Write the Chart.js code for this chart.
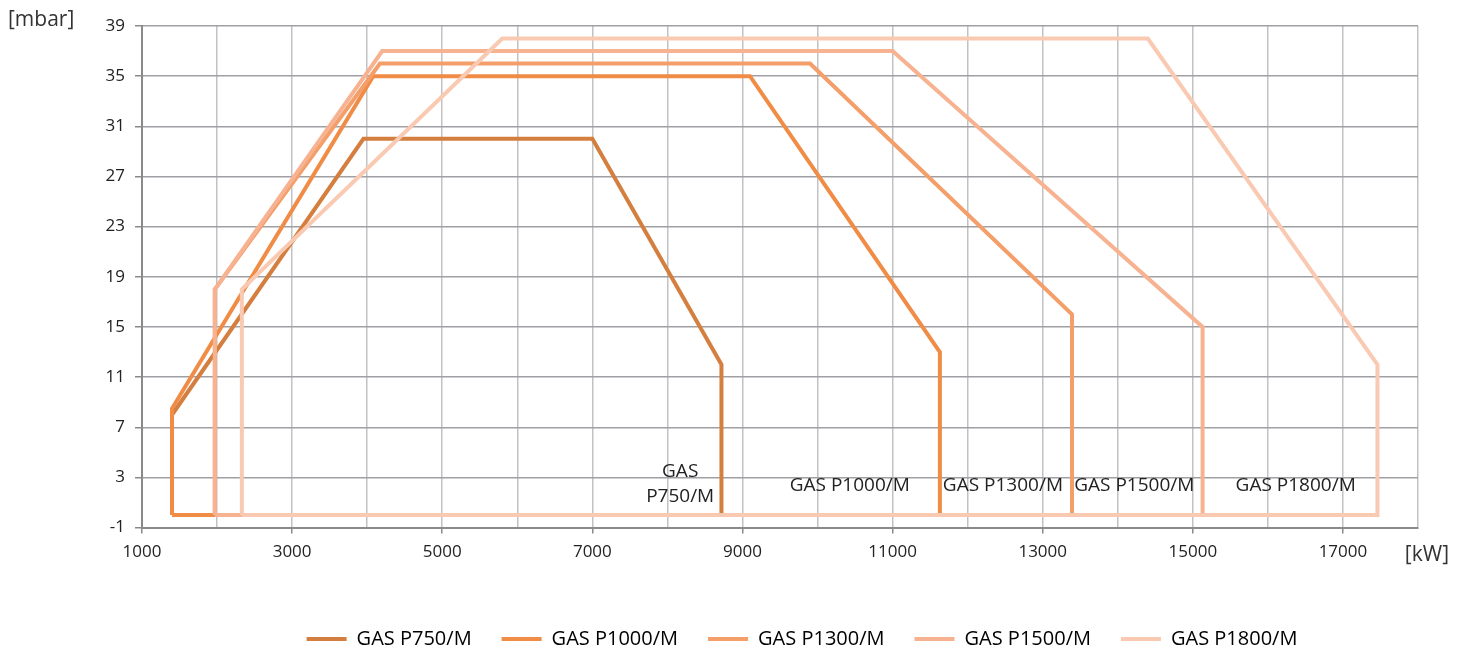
<!DOCTYPE html>
<html>
<head>
<meta charset="utf-8">
<script src="https://cdn.jsdelivr.net/npm/chart.js@4/dist/chart.umd.min.js"></script>
<style>
  html, body { margin: 0; padding: 0; background: #fff; }
  #wrap { width: 1464px; height: 651px; }
</style>
</head>
<body>
<div id="wrap"><canvas id="chart"></canvas></div>
<script>
// burner working fields (kW / mbar)
const names = ['GAS P750/M', 'GAS P1000/M', 'GAS P1300/M', 'GAS P1500/M', 'GAS P1800/M'];
const colors = ['#d47f3f', '#f08c45', '#f49e6a', '#f7b391', '#f9c9b2'];

const p750X  = [1400, 1400, 3950, 7000, 8720, 8720, 1400];
const p750Y  = [0, 8, 30, 30, 12, 0, 0];
const p1000X = [1400, 1400, 4080, 9100, 11630, 11630, 1400];
const p1000Y = [0, 8.5, 35, 35, 13, 0, 0];
const p1300X = [1970, 1970, 4170, 9900, 13390, 13390, 1970];
const p1300Y = [0, 18, 36, 36, 16, 0, 0];
const p1500X = [1970, 1970, 4200, 11000, 15130, 15130, 1970];
const p1500Y = [0, 18, 37, 37, 15, 0, 0];
const p1800X = [2330, 2330, 5800, 14400, 17460, 17460, 2330];
const p1800Y = [0, 18, 38, 38, 12, 0, 0];

// text labels written inside the plot (x, y in data units)
const noteText = [['GAS', 'P750/M'], ['GAS P1000/M'], ['GAS P1300/M'], ['GAS P1500/M'], ['GAS P1800/M']];
const noteX = [8170, 10430, 12470, 14220, 16370];
const noteY = [2.45, 2.35, 2.35, 2.35, 2.35];

const xs = [p750X, p1000X, p1300X, p1500X, p1800X];
const ys = [p750Y, p1000Y, p1300Y, p1500Y, p1800Y];

const FONT = "'Open Sans', 'Noto Sans', sans-serif";

const datasets = names.map((n, i) => ({
  label: n,
  data: xs[i].map((x, k) => ({ x: x, y: ys[i][k] })),
  borderColor: colors[i],
  backgroundColor: colors[i],
  borderWidth: 4,
  pointRadius: 0,
  fill: false,
  tension: 0,
  showLine: true,
  order: names.length - i   // last series painted on top
}));

const extras = {
  id: 'extras',
  afterLayout(chart) {
    // legend sits right of centre and a little lower in the original
    chart.legend.left += 93;
    chart.legend.right += 93;
    chart.legend.top += 8;
    chart.legend.bottom += 8;
  },
  afterDatasetsDraw(chart) {
    const { ctx, scales: { x, y } } = chart;
    ctx.save();
    ctx.fillStyle = '#222';
    ctx.font = '19px ' + FONT;
    ctx.textAlign = 'center';
    ctx.textBaseline = 'middle';
    noteText.forEach((lines, i) => {
      const px = x.getPixelForValue(noteX[i]);
      const py = y.getPixelForValue(noteY[i]);
      const start = py - (lines.length - 1) * 12.5;
      lines.forEach((t, k) => ctx.fillText(t, px, start + k * 25));
    });
    // unit labels
    const a = chart.chartArea;
    ctx.font = '21px ' + FONT;
    ctx.fillStyle = '#333';
    ctx.textAlign = 'left';
    ctx.fillText('[mbar]', 8, a.top - 6);
    ctx.textAlign = 'right';
    ctx.fillText('[kW]', 1449, a.bottom + 27);
    ctx.restore();
  }
};

new Chart(document.getElementById('chart'), {
  type: 'scatter',
  data: { datasets: datasets },
  options: {
    responsive: true,
    maintainAspectRatio: false,
    animation: false,
    layout: { padding: { left: 0, right: 46, top: 26, bottom: 0 } },
    plugins: {
      legend: {
        position: 'bottom',
        labels: {
          font: { family: FONT, size: 20 },
          color: '#222',
          boxWidth: 40,
          boxHeight: 4,
          padding: 30,
          generateLabels(chart) {
            return chart.data.datasets.map((d, i) => ({
              text: d.label,
              fillStyle: d.borderColor,
              strokeStyle: d.borderColor,
              lineWidth: 0,
              datasetIndex: i
            }));
          }
        }
      },
      tooltip: { enabled: false }
    },
    scales: {
      x: {
        type: 'linear',
        min: 1000,
        max: 18000,
        afterFit: s => { s.height += 21; },
        ticks: {
          stepSize: 1000,
          autoSkip: false,
          maxRotation: 0,
          padding: 8,
          color: '#222',
          font: { family: FONT, size: 17 },
          callback: v => (v % 2000 === 1000 && v < 18000) ? String(v) : ''
        },
        grid: {
          color: '#c2c2c4',
          lineWidth: 1.5,
          tickLength: 6,
          tickColor: ctx => (ctx.tick && ctx.tick.value % 2000 === 1000 && ctx.tick.value < 18000) ? '#8a8a8a' : 'rgba(0,0,0,0)'
        },
        border: { color: '#8a8a8a', width: 2 }
      },
      y: {
        min: -1,
        max: 39,
        afterFit: s => { s.width = 142; },
        ticks: {
          stepSize: 4,
          padding: 10,
          color: '#222',
          font: { family: FONT, size: 17 }
        },
        grid: {
          color: '#a0a0a4',
          lineWidth: 1.5,
          tickLength: 7,
          tickColor: '#8a8a8a'
        },
        border: { color: '#8a8a8a', width: 2 }
      }
    }
  },
  plugins: [extras]
});
</script>
</body>
</html>
